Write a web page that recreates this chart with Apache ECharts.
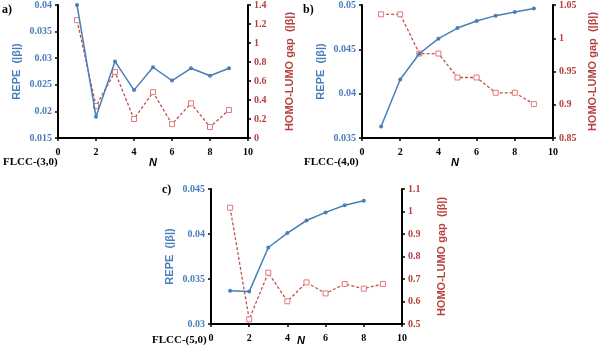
<!DOCTYPE html>
<html>
<head>
<meta charset="utf-8">
<script src="https://cdn.jsdelivr.net/npm/echarts@6/dist/echarts.min.js"></script>
<style>
html, body { margin: 0; padding: 0; background: #fff; }
#chart1 { width: 600px; height: 363px; }
</style>
</head>
<body>
<div id="chart1"></div>
<script>
// N values
var nA = [1, 2, 3, 4, 5, 6, 7, 8, 9];
var nB = [1, 2, 3, 4, 5, 6, 7, 8, 9];
var nC = [1, 2, 3, 4, 5, 6, 7, 8, 9];

// a) FLCC-(3,0)
var repeA = [0.0400, 0.0190, 0.0294, 0.0240, 0.0283, 0.0258, 0.0281, 0.0267, 0.0281];
var gapA = [1.24, 0.337, 0.695, 0.200, 0.483, 0.146, 0.365, 0.115, 0.295];
// b) FLCC-(4,0)
var repeB = [0.0363, 0.0416, 0.0445, 0.0462, 0.0474, 0.0482, 0.0488, 0.0492, 0.0496];
var gapB = [1.036, 1.036, 0.977, 0.977, 0.941, 0.941, 0.918, 0.918, 0.901];
// c) FLCC-(5,0)
var repeC = [0.0337, 0.0336, 0.0385, 0.0401, 0.0415, 0.0424, 0.0432, 0.0437];
var gapC = [1.017, 0.521, 0.728, 0.601, 0.685, 0.636, 0.678, 0.657, 0.678];

// axis ranges [min, max, interval]
var repeRange = [[0.015, 0.04, 0.005], [0.035, 0.05, 0.005], [0.03, 0.045, 0.005]];
var gapRange = [[0, 1.4, 0.2], [0.85, 1.05, 0.05], [0.5, 1.1, 0.1]];
var panelLabels = ['a)', 'b)', 'c)'];
var structLabels = ['FLCC-(3,0)', 'FLCC-(4,0)', 'FLCC-(5,0)'];

var blue = '#4A7EBB';
var red = '#B5403D';
var serif = '"Liberation Serif", "DejaVu Serif", serif';
var sans = '"Liberation Sans", Arial, sans-serif';

function pairs(xs, ys) {
    var out = [];
    for (var i = 0; i < ys.length; i++) out.push([xs[i], ys[i]]);
    return out;
}

var dom = document.getElementById('chart1');
var myChart = echarts.init(dom);

var grids = [
    { left: 58, top: 4, width: 190, height: 134 },
    { left: 362, top: 4, width: 191, height: 134 },
    { left: 211, top: 189, width: 191, height: 135 }
];

var axisLine = { show: true, lineStyle: { color: '#000', width: 2 } };
var xAxes = [], yAxes = [], series = [];
var repes = [repeA, repeB, repeC];
var gaps = [gapA, gapB, gapC];
var ns = [nA, nB, nC];

for (var g = 0; g < 3; g++) {
    xAxes.push({
        gridIndex: g, type: 'value', min: 0, max: 10, interval: 2,
        axisLine: axisLine,
        axisTick: { show: true, length: 3, lineStyle: { color: '#000', width: 1.5 } },
        axisLabel: { color: '#000', fontFamily: serif, fontWeight: 'bold', fontSize: 10, margin: 9 },
        splitLine: { show: false }
    });
    yAxes.push({
        gridIndex: g, type: 'value', position: 'left',
        min: repeRange[g][0], max: repeRange[g][1], interval: repeRange[g][2],
        name: 'REPE  (|\u03b2|)', nameLocation: 'middle', nameGap: 36,
        nameTextStyle: { color: blue, fontFamily: sans, fontWeight: 'bold', fontSize: 11 },
        axisLine: axisLine,
        axisTick: { show: true, length: 3, lineStyle: { color: '#000', width: 1.5 } },
        axisLabel: { color: blue, fontFamily: serif, fontWeight: 'bold', fontSize: 10, margin: 6 },
        splitLine: { show: false }
    });
    yAxes.push({
        gridIndex: g, type: 'value', position: 'right',
        min: gapRange[g][0], max: gapRange[g][1], interval: gapRange[g][2],
        name: 'HOMO-LUMO gap  (|\u03b2|)', nameLocation: 'middle', nameGap: g == 0 ? 36 : 34,
        nameTextStyle: { color: red, fontFamily: sans, fontWeight: 'bold', fontSize: 11 },
        axisLine: axisLine,
        axisTick: { show: true, length: 3, lineStyle: { color: '#000', width: 1.5 } },
        axisLabel: { color: red, fontFamily: serif, fontWeight: 'bold', fontSize: 10, margin: 6 },
        splitLine: { show: false }
    });
    series.push({
        type: 'line', xAxisIndex: g, yAxisIndex: g * 2,
        data: pairs(ns[g], repes[g]),
        symbol: 'circle', symbolSize: 4,
        itemStyle: { color: blue },
        lineStyle: { color: blue, width: 1.5 },
        z: 3
    });
    series.push({
        type: 'line', xAxisIndex: g, yAxisIndex: g * 2 + 1,
        data: pairs(ns[g], gaps[g]),
        symbol: 'rect', symbolSize: 5,
        itemStyle: { color: '#fff', borderColor: '#E07A78', borderWidth: 1 },
        lineStyle: { color: '#C0504D', width: 1.3, type: [3, 2] },
        z: 2
    });
}

var texts = [];
var panelPos = [[2, 4], [303, 4], [162, 184]];
var structPos = [[3, 157], [304, 157], [152, 335]];
var nPos = [[149, 157], [451, 157], [297, 335]];
for (var k = 0; k < 3; k++) {
    texts.push({ type: 'text', left: panelPos[k][0], top: panelPos[k][1],
        style: { text: panelLabels[k], font: 'bold 12px ' + serif, fill: '#000' } });
    texts.push({ type: 'text', left: structPos[k][0], top: structPos[k][1],
        style: { text: structLabels[k], font: 'bold 11px ' + serif, fill: '#000' } });
    texts.push({ type: 'text', left: nPos[k][0], top: nPos[k][1],
        style: { text: 'N', font: 'italic bold 11px ' + sans, fill: '#000' } });
}

myChart.setOption({
    animation: false,
    backgroundColor: '#fff',
    grid: grids,
    xAxis: xAxes,
    yAxis: yAxes,
    series: series,
    graphic: texts
});
</script>
</body>
</html>
